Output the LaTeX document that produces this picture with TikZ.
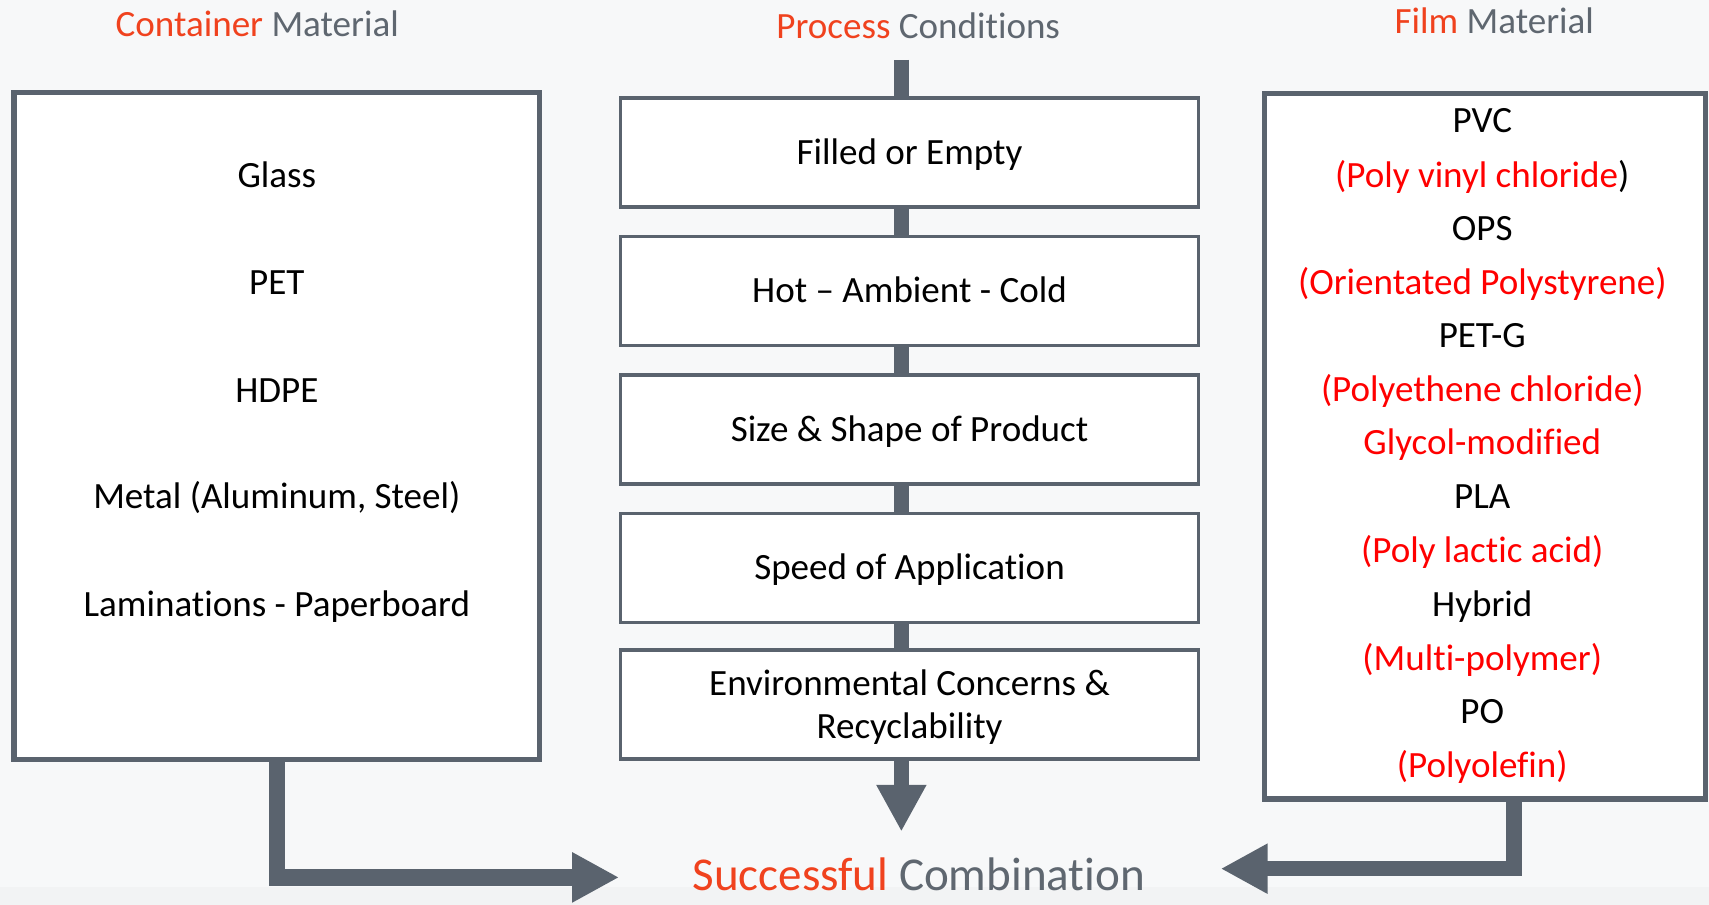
\documentclass[tikz,border=0pt]{standalone}
\usepackage{fontspec}
\setmainfont[Ligatures={NoCommon}]{Carlito}
\usetikzlibrary{arrows.meta}
\definecolor{bg}{RGB}{247,248,249}
\definecolor{bgdark}{RGB}{242,243,244}
\definecolor{hred}{RGB}{240,66,30}
\definecolor{hgray}{RGB}{95,103,112}
\definecolor{frame}{RGB}{90,99,110}
\definecolor{tred}{RGB}{255,0,0}
\begin{document}
\begin{tikzpicture}[x=0.5pt,y=-0.5pt,
  txt/.style={inner sep=0pt, text height=10.95pt, text depth=0pt, font=\fontsize{17}{20}\selectfont},
  head/.style={inner sep=0pt, text height=10.95pt, text depth=0pt, font=\fontsize{17}{20}\selectfont},
  bighead/.style={inner sep=0pt, text height=13.9pt, text depth=0pt, font=\fontsize{21.6}{26}\selectfont},
  bigbox/.style={draw=frame, line width=2.5pt, fill=white, inner sep=0pt},
  stepbox/.style={draw=frame, line width=1.6pt, fill=white, inner sep=0pt, minimum width=265pt, minimum height=50pt},
  conn/.style={draw=frame, line width=7pt, line join=miter},
  tip/.style={-{Triangle[length=21.5pt,width=21.5pt]}}]
\useasboundingbox (0,0) rectangle (1568,830);
\fill[bg] (0,0) rectangle (1568,830);
\fill[bgdark] (0,814) rectangle (1568,830);

% headings
\node[head] (hc) at (236,22.5) {\textcolor{hred}{Container} \textcolor{hgray}{Material}};
\node[head] (hp) at (842.5,24.5) {\textcolor{hred}{Process} \textcolor{hgray}{Conditions}};
\node[head] (hf) at (1371,20) {\textcolor{hred}{Film} \textcolor{hgray}{Material}};
\node[bighead] (succ) at (843,803) {\textcolor{hred}{Successful} \textcolor{hgray}{Combination}};

% left box
\node[bigbox, minimum width=241pt, minimum height=306pt] (L) at (254,391) {};
\node[txt] (l1) at (254,161) {Glass};
\node[txt] (l2) at (254,259) {PET};
\node[txt] (l3) at (254,358) {HDPE};
\node[txt] (l4) at (254,456) {Metal (Aluminum, Steel)};
\node[txt] (l5) at (254,555) {Laminations - Paperboard};

% middle boxes
\node[stepbox] (b1) at (834.5,140) {};
\node[stepbox] (b2) at (834.5,267) {};
\node[stepbox] (b3) at (834.5,394) {};
\node[stepbox] (b4) at (834.5,521) {};
\node[stepbox] (b5) at (834.5,646.5) {};
\node[txt] (t1) at (b1) {Filled or Empty};
\node[txt] (t2) at (b2) {Hot – Ambient - Cold};
\node[txt] (t3) at (b3) {Size \& Shape of Product};
\node[txt] (t4) at (b4) {Speed of Application};
\node[txt] (t5a) at (834.5,627) {Environmental Concerns \&};
\node[txt] (t5b) at (834.5,667) {Recyclability};

% right box
\node[bigbox, minimum width=202.5pt, minimum height=323.5pt] (R) at (1362.5,409.5) {};
\node[txt] (f1) at (1360,111) {PVC};
\node[txt] (f2) at (1360,161) {\textcolor{tred}{(Poly vinyl chloride}\textcolor{black}{)}};
\node[txt] (f3) at (1360,210) {OPS};
\node[txt, text=tred] (f4) at (1360,259) {(Orientated Polystyrene)};
\node[txt] (f5) at (1360,308) {PET-G};
\node[txt, text=tred] (f6) at (1360,357) {(Polyethene chloride)};
\node[txt, text=tred] (f7) at (1360,406) {Glycol-modified};
\node[txt] (f8) at (1360,456) {PLA};
\node[txt, text=tred] (f9) at (1360,505) {(Poly lactic acid)};
\node[txt] (f10) at (1360,555) {Hybrid};
\node[txt, text=tred] (f11) at (1360,604) {(Multi-polymer)};
\node[txt] (f12) at (1360,653) {PO};
\node[txt, text=tred] (f13) at (1360,702) {(Polyolefin)};

% connectors
\coordinate (ctop) at (827,55);
\coordinate (cdown) at (827,763);
\coordinate (tipL) at (568,805);
\coordinate (tipR) at (1120,797);
\draw[conn] (ctop) -- (ctop |- b1.north);
\draw[conn] (ctop |- b1.south) -- (ctop |- b2.north);
\draw[conn] (ctop |- b2.south) -- (ctop |- b3.north);
\draw[conn] (ctop |- b3.south) -- (ctop |- b4.north);
\draw[conn] (ctop |- b4.south) -- (ctop |- b5.north);
\draw[conn, tip] (ctop |- b5.south) -- (cdown);
\draw[conn, tip, line width=7.5pt] (L.south) |- (tipL);
\draw[conn, tip] ([xshift=13.25pt]R.south) |- (tipR);
\end{tikzpicture}
\end{document}
